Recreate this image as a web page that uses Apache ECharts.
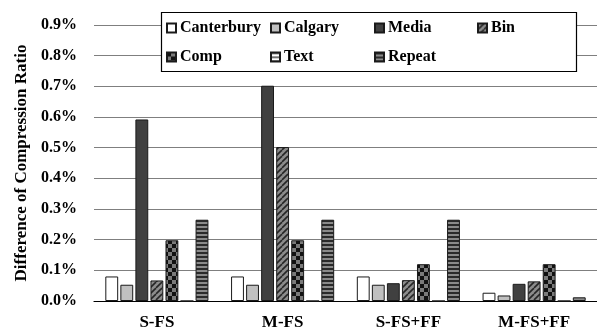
<!DOCTYPE html>
<html>
<head>
<meta charset="utf-8">
<script src="https://cdn.jsdelivr.net/npm/echarts@6/dist/echarts.min.js"></script>
<style>
html,body{margin:0;padding:0;background:#fff;}
#chart{width:597px;height:331px;}
</style>
</head>
<body>
<div id="chart"></div>
<script>
// Configurations along the x axis
var categories = ['S-FS', 'M-FS', 'S-FS+FF', 'M-FS+FF'];
// Difference of compression ratio (%) per corpus
var canterbury = [0.08, 0.08, 0.08, 0.027];
var calgary    = [0.053, 0.053, 0.053, 0.018];
var media      = [0.592, 0.702, 0.058, 0.056];
var bin        = [0.067, 0.502, 0.068, 0.064];
var comp       = [0.198, 0.198, 0.12, 0.12];
var text       = [0, 0, 0, 0];
var repeat     = [0.265, 0.265, 0.265, 0.012];
var seriesNames = ['Canterbury', 'Calgary', 'Media', 'Bin', 'Comp', 'Text', 'Repeat'];
var yTicks = [0, 0.1, 0.2, 0.3, 0.4, 0.5, 0.6, 0.7, 0.8, 0.9];

var FONT = '"Liberation Serif", "Times New Roman", serif';

function makePattern(size, draw) {
  var c = document.createElement('canvas');
  c.width = size; c.height = size;
  var ctx = c.getContext('2d');
  draw(ctx, size);
  return { image: c, repeat: 'repeat' };
}

var fills = {
  Canterbury: '#ffffff',
  Calgary: '#c0c0c0',
  Media: '#404040',
  Bin: makePattern(6, function (ctx, s) {
    ctx.fillStyle = '#8c8c8c'; ctx.fillRect(0, 0, s, s);
    ctx.strokeStyle = '#262626'; ctx.lineWidth = 1.6;
    for (var k = -1; k <= 1; k++) {
      ctx.beginPath();
      ctx.moveTo(k * s, s); ctx.lineTo(k * s + s, 0);
      ctx.stroke();
    }
  }),
  Comp: makePattern(8, function (ctx, s) {
    ctx.fillStyle = '#7a7a7a'; ctx.fillRect(0, 0, s, s);
    ctx.fillStyle = '#111111';
    ctx.fillRect(0, 0, s / 2, s / 2);
    ctx.fillRect(s / 2, s / 2, s / 2, s / 2);
  }),
  Text: makePattern(4, function (ctx, s) {
    ctx.fillStyle = '#ffffff'; ctx.fillRect(0, 0, s, s);
    ctx.fillStyle = '#404040'; ctx.fillRect(0, 0, s, 1.5);
  }),
  Repeat: makePattern(4, function (ctx, s) {
    ctx.fillStyle = '#8a8a8a'; ctx.fillRect(0, 0, s, s);
    ctx.fillStyle = '#2a2a2a'; ctx.fillRect(0, 0, s, 2);
  })
};

var dataSets = [canterbury, calgary, media, bin, comp, text, repeat];

var series = seriesNames.map(function (name, i) {
  return {
    name: name,
    type: 'bar',
    data: dataSets[i],
    barGap: '17%',
    barCategoryGap: '18%',
    itemStyle: { color: fills[name], borderColor: '#1a1a1a', borderWidth: 1 },
    emphasis: { disabled: true }
  };
});

// Legend entries, laid out in a fixed 4-column grid
var legendSlots = [
  [166, 20], [270, 20], [374, 20], [477, 20],
  [166, 49], [270, 49], [374, 49]
];
var legends = seriesNames.map(function (name, i) {
  return {
    data: [name],
    left: legendSlots[i][0],
    top: legendSlots[i][1],
    padding: 0,
    itemWidth: 9,
    itemHeight: 9,
    itemGap: 0,
    icon: 'rect',
    z: 6,
    selectedMode: false,
    textStyle: { fontFamily: FONT, fontWeight: 'bold', fontSize: 16, color: '#000', padding: [0, 0, 0, -1] }
  };
});

var chart = echarts.init(document.getElementById('chart'), null, { renderer: 'canvas' });
chart.setOption({
  animation: false,
  backgroundColor: '#ffffff',
  grid: { left: 94, right: 0, top: 25, bottom: 28, containLabel: false },
  legend: legends,
  graphic: [{
    type: 'rect',
    shape: { x: 161.5, y: 12.5, width: 415, height: 59 },
    style: { fill: '#ffffff', stroke: '#000000', lineWidth: 1.2 },
    z: 5
  }],
  xAxis: {
    type: 'category',
    data: categories,
    axisLine: { lineStyle: { color: '#000', width: 1.2 } },
    axisTick: { show: false },
    axisLabel: { fontFamily: FONT, fontWeight: 'bold', fontSize: 17, color: '#000', margin: 13 }
  },
  yAxis: {
    type: 'value',
    min: yTicks[0],
    max: yTicks[yTicks.length - 1],
    interval: 0.1,
    name: 'Difference of Compression Ratio',
    nameLocation: 'middle',
    nameGap: 62,
    nameTextStyle: { fontFamily: FONT, fontWeight: 'bold', fontSize: 17, color: '#000' },
    axisLine: { show: false },
    axisTick: { show: false },
    splitLine: { lineStyle: { color: '#7f7f7f', width: 1 } },
    axisLabel: {
      fontFamily: FONT, fontWeight: 'bold', fontSize: 16, color: '#000', margin: 17,
      formatter: function (v) { return v.toFixed(1) + '%'; }
    }
  },
  series: series
});
</script>
</body>
</html>
